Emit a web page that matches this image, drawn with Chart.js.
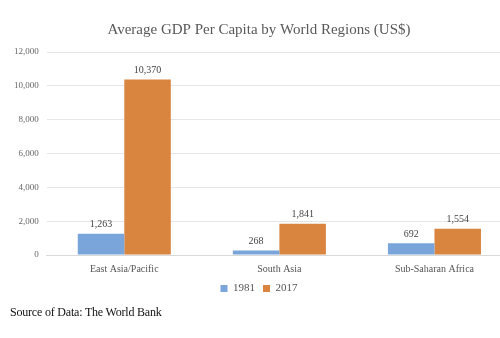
<!DOCTYPE html>
<html>
<head>
<meta charset="utf-8">
<script src="https://cdn.jsdelivr.net/npm/chart.js@4"></script>
<style>
    html, body { margin: 0; padding: 0; background: #fff; overflow: hidden; }
    #wrap { position: relative; width: 512px; height: 338px; }
    #source {
        position: absolute; left: 10px; top: 305px;
        font-family: "Liberation Serif", "DejaVu Serif", serif;
        font-size: 12px; color: #111; letter-spacing: -0.2px;
    }
</style>
</head>
<body>
<div id="wrap">
    <canvas id="gdpChart" width="512" height="338"></canvas>
    <div id="source">Source of Data: The World Bank</div>
</div>
<script>
// Chart data
const regions = ['East Asia/Pacific', 'South Asia', 'Sub-Saharan Africa'];
const gdp1981 = [1263, 268, 692];
const gdp2017 = [10370, 1841, 1554];
const yTicks = [0, 2000, 4000, 6000, 8000, 10000, 12000];

const serif = '"Liberation Serif", "DejaVu Serif", serif';

// Draw value labels above each bar
const valueLabels = {
    id: 'valueLabels',
    afterDatasetsDraw(chart) {
        const ctx = chart.ctx;
        ctx.save();
        ctx.font = '10px ' + serif;
        ctx.fillStyle = '#444';
        ctx.textAlign = 'center';
        ctx.textBaseline = 'bottom';
        chart.data.datasets.forEach((ds, i) => {
            chart.getDatasetMeta(i).data.forEach((bar, j) => {
                ctx.fillText(ds.data[j].toLocaleString('en-US'), bar.x, bar.y - 4);
            });
        });
        ctx.restore();
    }
};

const ctx = document.getElementById('gdpChart').getContext('2d');
const gdpChart = new Chart(ctx, {
    type: 'bar',
    data: {
        labels: regions,
        datasets: [
            { label: '1981', data: gdp1981, backgroundColor: '#79A5DB' },
            { label: '2017', data: gdp2017, backgroundColor: '#D9853F' }
        ]
    },
    options: {
        responsive: false,
        animation: false,
        layout: { padding: { top: 21, left: 6, right: 0, bottom: 34 } },
        datasets: {
            bar: { categoryPercentage: 0.6, barPercentage: 1.0 }
        },
        scales: {
            x: {
                grid: { display: false },
                border: { color: '#d9d9d9' },
                ticks: { font: { family: serif, size: 10 }, color: '#555', padding: 0 }
            },
            y: {
                min: 0,
                max: 12000,
                afterBuildTicks: (axis) => { axis.ticks = yTicks.map(v => ({ value: v })); },
                grid: { color: '#e6e6e6', drawTicks: false },
                border: { display: false },
                ticks: {
                    font: { family: serif, size: 9 },
                    color: '#666',
                    padding: 8,
                    callback: (v) => v.toLocaleString('en-US')
                }
            }
        },
        plugins: {
            title: {
                display: true,
                text: 'Average GDP Per Capita by World Regions (US$)',
                font: { family: serif, size: 15, weight: 'normal' },
                color: '#595959',
                padding: { top: 0, bottom: 13 }
            },
            legend: {
                position: 'bottom',
                labels: {
                    font: { family: serif, size: 11 },
                    color: '#555',
                    boxWidth: 7,
                    boxHeight: 7,
                    padding: 8
                }
            },
            tooltip: { enabled: false }
        }
    },
    plugins: [valueLabels]
});
</script>
</body>
</html>
